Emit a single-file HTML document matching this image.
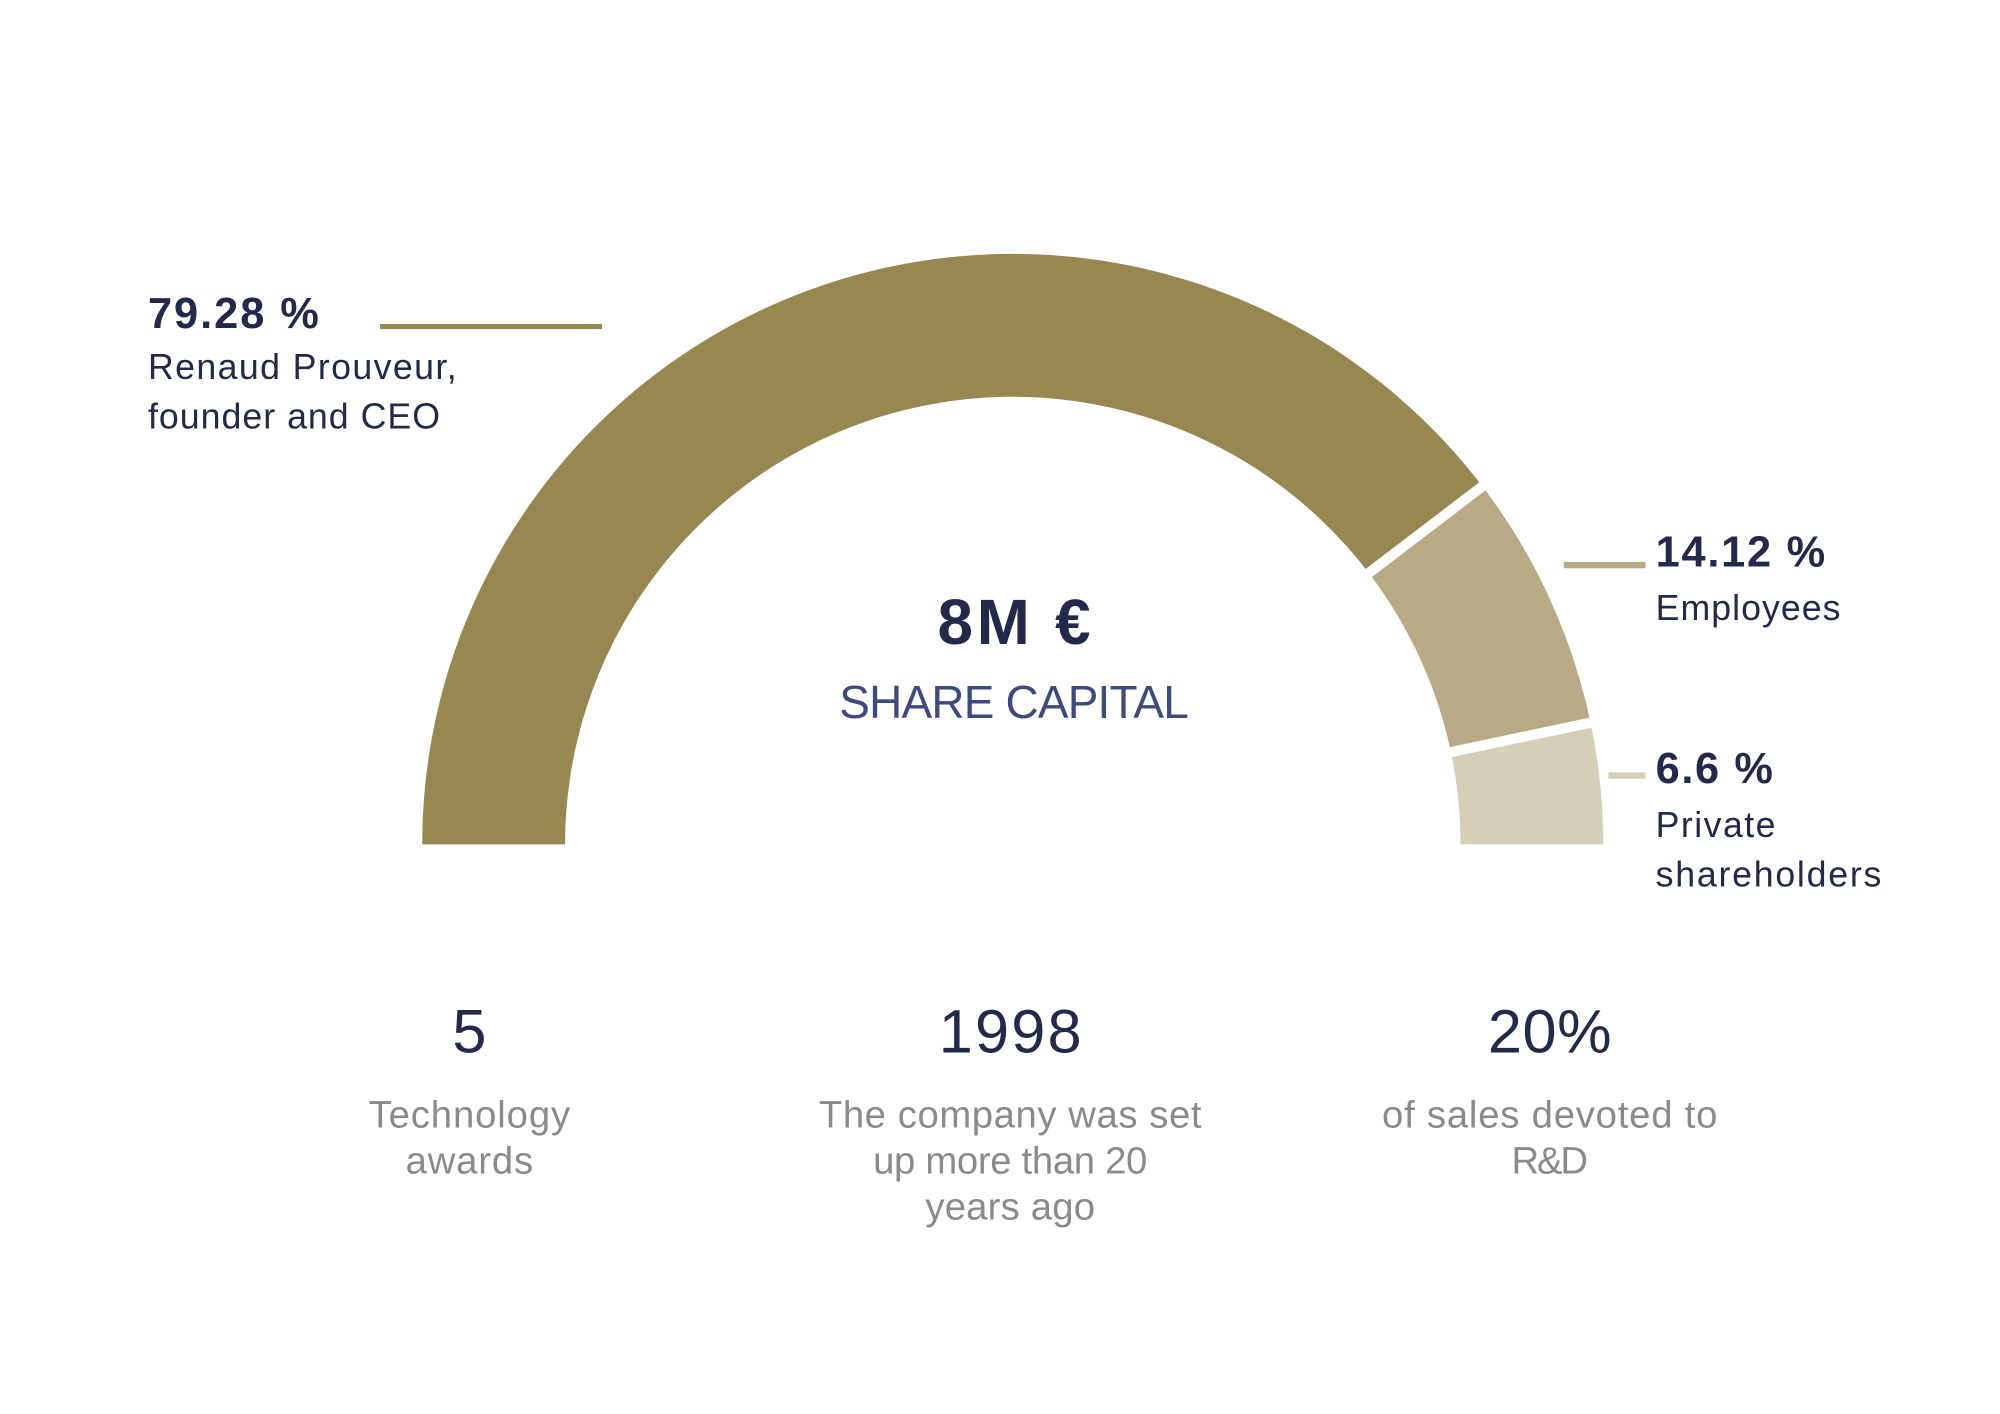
<!DOCTYPE html>
<html><head><meta charset="utf-8"><style>html,body{margin:0;padding:0;background:#fff}svg{display:block}</style></head>
<body>
<svg width="2000" height="1414" viewBox="0 0 1568 1108.5" xmlns="http://www.w3.org/2000/svg" font-family="Liberation Sans, sans-serif">
<rect width="1568" height="1108.5" fill="#fff"/>
<path d="M331 662 A463 463 0 0 1 1162.3 381.4 L1073.2 449.3 A351 351 0 0 0 443 662 Z" fill="#978851"/>
<path d="M1162.3 381.4 A463 463 0 0 1 1247 566.5 L1137.5 589.6 A351 351 0 0 0 1073.2 449.3 Z" fill="#b7aa84"/>
<path d="M1247 566.5 A463 463 0 0 1 1257 662 L1145 662 A351 351 0 0 0 1137.5 589.6 Z" fill="#d6cfb8"/>
<line x1="1170" y1="375.3" x2="1065" y2="455.4" stroke="#fff" stroke-width="8"/>
<line x1="1256.8" y1="564.4" x2="1127.7" y2="591.7" stroke="#fff" stroke-width="8"/>
<rect x="298" y="254" width="174" height="4" fill="#978851"/>
<rect x="1226" y="440.5" width="64" height="5" fill="#b7aa84"/>
<rect x="1261" y="605.5" width="29" height="5" fill="#d6cfb8"/>
<g fill="#22294a">
<text x="116" y="257" font-size="34" font-weight="bold" textLength="134">79.28 %</text>
<text x="116" y="297" font-size="28" textLength="242">Renaud Prouveur,</text>
<text x="116" y="336" font-size="28" textLength="229">founder and CEO</text>
<text x="1298" y="444" font-size="34" font-weight="bold" textLength="133">14.12 %</text>
<text x="1298" y="486" font-size="28" textLength="145">Employees</text>
<text x="1298" y="614" font-size="34" font-weight="bold" textLength="92">6.6 %</text>
<text x="1298" y="656" font-size="28" textLength="94">Private</text>
<text x="1298" y="695" font-size="28" textLength="177">shareholders</text>
<text x="795" y="505" font-size="50" font-weight="bold" text-anchor="middle" textLength="120">8M €</text>
<text x="368" y="825" font-size="48" text-anchor="middle">5</text>
<text x="792" y="825" font-size="48" text-anchor="middle" textLength="112">1998</text>
<text x="1215" y="825" font-size="48" text-anchor="middle" textLength="97">20%</text>
</g>
<text x="795" y="563" font-size="36" fill="#3d4a80" text-anchor="middle" textLength="274">SHARE CAPITAL</text>
<g fill="#8a8a8a" font-size="30" text-anchor="middle">
<text x="368" y="884" textLength="158">Technology</text>
<text x="368" y="920" textLength="100">awards</text>
<text x="792" y="884" textLength="300">The company was set</text>
<text x="792" y="920" textLength="215">up more than 20</text>
<text x="792" y="956" textLength="133">years ago</text>
<text x="1215" y="884" textLength="263">of sales devoted to</text>
<text x="1215" y="920" textLength="60">R&amp;D</text>
</g>
</svg>
</body></html>
